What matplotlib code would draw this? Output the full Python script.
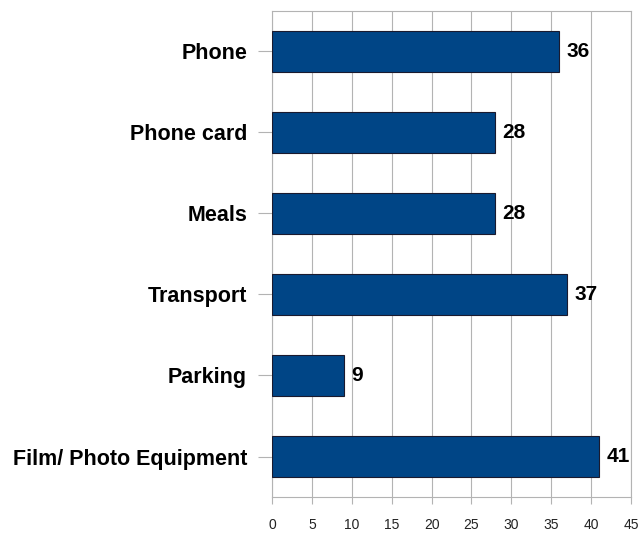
import matplotlib.pyplot as plt

categories = ['Phone', 'Phone card', 'Meals', 'Transport', 'Parking', 'Film/ Photo Equipment']
values = [36, 28, 28, 37, 9, 41]
x_ticks = [0, 5, 10, 15, 20, 25, 30, 35, 40, 45]

plt.rcParams['font.family'] = ['Liberation Sans', 'DejaVu Sans']

fig = plt.figure(figsize=(6.39, 5.33), dpi=100)
ax = fig.add_axes([0.4257, 0.0675, 0.5618, 0.912])

pos = list(range(len(categories)))
ax.barh(pos, values, height=0.5, color='#004586', edgecolor='#1a1a2e', linewidth=0.8, zorder=3)

# value labels just right of each bar
for p, v in zip(pos, values):
    ax.text(v + 0.9, p, str(v), va='center', ha='left', fontsize=15, fontweight='bold', color='black')

ax.set_ylim(len(categories) - 0.5, -0.5)
ax.set_xlim(0, 45)
ax.set_yticks(pos)
ax.set_yticklabels(categories, fontsize=15.5, fontweight='bold')
ax.set_xticks(x_ticks)
ax.tick_params(axis='x', labelsize=10, length=5, color='#b3b3b3', pad=10, labelcolor='#222222')
ax.tick_params(axis='y', length=10, color='#b3b3b3', pad=8)

ax.grid(axis='x', color='#b3b3b3', linewidth=0.8, zorder=0)
for s in ax.spines.values():
    s.set_color('#b3b3b3')
    s.set_linewidth(0.8)

fig.savefig('out.png', dpi=100)
